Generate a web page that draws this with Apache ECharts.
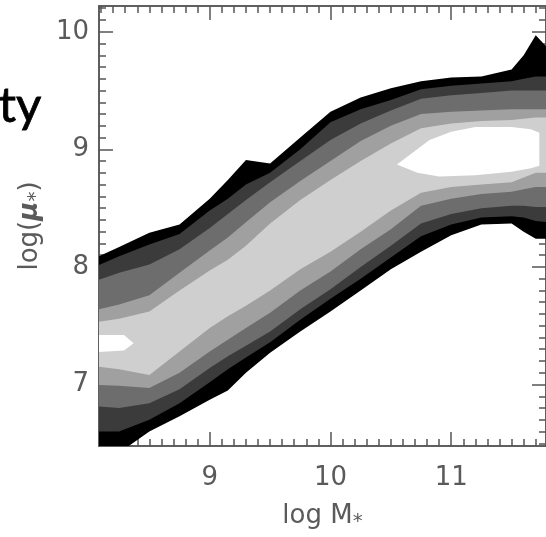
<!DOCTYPE html>
<html><head><meta charset="utf-8">
<script src="https://cdn.jsdelivr.net/npm/echarts@6/dist/echarts.min.js"></script>
<style>html,body{margin:0;padding:0;background:#fff}#c{width:546px;height:537px}</style>
</head><body><div id="c"></div>
<script>
// log M* sample positions of the contour boundaries
const massGrid = [8.0, 8.25, 8.5, 8.75, 9.0, 9.15, 9.3, 9.5, 9.75, 10.0, 10.25, 10.5, 10.75, 11.0, 11.25, 11.5, 11.6, 11.7, 11.8];
// upper boundaries (log mu*) of each filled level
const blackTop   = [8.05, 8.17, 8.29, 8.36, 8.58, 8.74, 8.91, 8.88, 9.10, 9.32, 9.44, 9.52, 9.58, 9.61, 9.62, 9.68, 9.80, 9.97, 9.86];
const darkTop    = [7.98, 8.09, 8.19, 8.28, 8.48, 8.58, 8.70, 8.80, 9.00, 9.23, 9.34, 9.42, 9.51, 9.54, 9.56, 9.58, 9.60, 9.62, 9.62];
const grayTop    = [7.86, 7.95, 8.02, 8.15, 8.33, 8.45, 8.57, 8.72, 8.90, 9.08, 9.22, 9.33, 9.43, 9.46, 9.48, 9.50, 9.50, 9.50, 9.50];
const midTop     = [7.62, 7.68, 7.76, 7.95, 8.14, 8.25, 8.38, 8.55, 8.73, 8.90, 9.07, 9.20, 9.30, 9.32, 9.33, 9.34, 9.34, 9.34, 9.34];
const lightTop   = [7.52, 7.56, 7.62, 7.80, 7.97, 8.06, 8.18, 8.37, 8.57, 8.74, 8.90, 9.05, 9.18, 9.22, 9.24, 9.25, 9.26, 9.27, 9.27];
// lower boundaries
const lightBottom = [7.16, 7.13, 7.08, 7.28, 7.48, 7.58, 7.67, 7.80, 7.98, 8.13, 8.30, 8.48, 8.63, 8.68, 8.70, 8.72, 8.76, 8.80, 8.80];
const midBottom   = [7.00, 6.99, 6.97, 7.10, 7.28, 7.38, 7.48, 7.61, 7.80, 7.96, 8.15, 8.32, 8.52, 8.58, 8.62, 8.64, 8.66, 8.68, 8.68];
const grayBottom  = [6.82, 6.80, 6.84, 6.96, 7.14, 7.24, 7.33, 7.45, 7.64, 7.81, 8.00, 8.18, 8.37, 8.45, 8.50, 8.52, 8.52, 8.51, 8.51];
const darkBottom  = [6.60, 6.60, 6.70, 6.84, 7.02, 7.13, 7.23, 7.36, 7.55, 7.73, 7.90, 8.08, 8.26, 8.36, 8.42, 8.43, 8.42, 8.39, 8.38];
const blackBottom = [6.35, 6.42, 6.60, 6.73, 6.87, 6.95, 7.10, 7.27, 7.45, 7.62, 7.80, 7.98, 8.13, 8.27, 8.36, 8.37, 8.30, 8.24, 8.24];
// innermost (peak) islands, as [log M*, log mu*]
const peakLeft  = [[8.0,7.42],[8.29,7.42],[8.37,7.35],[8.29,7.29],[8.0,7.27]];
const peakRight = [[10.55,8.87],[10.68,8.97],[10.82,9.08],[11.0,9.15],[11.2,9.19],[11.5,9.19],[11.66,9.17],[11.73,9.14],[11.73,8.86],[11.66,8.84],[11.5,8.81],[11.2,8.78],[10.9,8.77],[10.72,8.80]];
// axes
const xRange = [8.083, 11.785];
const yRange = [6.477, 10.219];
const xMajorTicks = [9, 10, 11];
const xMinorTicks = [8.1,8.2,8.3,8.4,8.5,8.6,8.7,8.8,8.9,9.1,9.2,9.3,9.4,9.5,9.6,9.7,9.8,9.9,10.1,10.2,10.3,10.4,10.5,10.6,10.7,10.8,10.9,11.1,11.2,11.3,11.4,11.5,11.6,11.7];
const yMajorTicks = [7, 8, 9, 10];
const yMinorTicks = [6.5,6.6,6.7,6.8,6.9,7.1,7.2,7.3,7.4,7.5,7.6,7.7,7.8,7.9,8.1,8.2,8.3,8.4,8.5,8.6,8.7,8.8,8.9,9.1,9.2,9.3,9.4,9.5,9.6,9.7,9.8,9.9,10.1,10.2];

const levelColors = ['#000000', '#3b3b3b', '#6d6d6d', '#a0a0a0', '#cfcfcf', '#ffffff'];

function bandPolygon(upper, lower) {
  const pts = [];
  massGrid.forEach((x, i) => pts.push([x, upper[i]]));
  for (let i = massGrid.length - 1; i >= 0; i--) pts.push([massGrid[i], lower[i]]);
  return pts;
}
function polySeries(name, pts, color) {
  return {
    type: 'custom', name: name, xAxisIndex: 0, yAxisIndex: 0, clip: true, silent: true,
    animation: false, data: pts, encode: {x: 0, y: 1},
    renderItem: function (params, api) {
      if (params.dataIndex !== 0) return null;
      return {type: 'polygon', shape: {points: pts.map(p => api.coord(p))},
              style: {fill: color, stroke: null}};
    }
  };
}

const axisColor = '#555555';
const textGray = '#5a5a5a';
const labelStyle = {fontFamily: 'DejaVu Sans', fontSize: 26, color: textGray};
function xAx(pos, ticks, len, labels, extra) {
  return Object.assign({
    type: 'value', position: pos, min: xRange[0], max: xRange[1],
    axisLine: {show: true, onZero: false, lineStyle: {color: axisColor, width: 1.5}},
    axisTick: {show: true, inside: true, length: len, customValues: ticks, lineStyle: {color: axisColor, width: 1.5}},
    axisLabel: labels ? Object.assign({customValues: ticks, margin: 19}, labelStyle) : {show: false},
    splitLine: {show: false}
  }, extra || {});
}
function yAx(pos, ticks, len, labels, extra) {
  return Object.assign({
    type: 'value', position: pos, min: yRange[0], max: yRange[1],
    axisLine: {show: true, onZero: false, lineStyle: {color: axisColor, width: 1.5}},
    axisTick: {show: true, inside: true, length: len, customValues: ticks, lineStyle: {color: axisColor, width: 1.5}},
    axisLabel: labels ? Object.assign({customValues: ticks, margin: 10}, labelStyle) : {show: false},
    splitLine: {show: false}
  }, extra || {});
}

const chart = echarts.init(document.getElementById('c'), null, {renderer: 'canvas'});
chart.setOption({
  animation: false,
  backgroundColor: '#ffffff',
  grid: {left: 99, top: 6, width: 448, height: 440, containLabel: false},
  graphic: [{
    type: 'text', left: -2, top: 81,
    style: {text: 'ty', font: '49px Lato', fill: '#000000', stroke: '#000000', lineWidth: 0.8}
  }],
  xAxis: [
    xAx('bottom', xMajorTicks, 14, true, {
      name: '{a|log M}{b|⁎}', nameLocation: 'middle', nameGap: 57,
      nameTextStyle: {rich: {
        a: {fontFamily: 'DejaVu Sans', fontSize: 26, color: textGray},
        b: {fontFamily: 'DejaVu Sans', fontSize: 20, color: textGray}
      }}
    }),
    xAx('bottom', xMinorTicks, 7, false),
    xAx('top', xMajorTicks, 14, false),
    xAx('top', xMinorTicks, 7, false)
  ],
  yAxis: [
    yAx('left', yMajorTicks, 14, true, {
      name: '{a|log(}{b|μ}{c|⁎}{a|)}', nameLocation: 'middle', nameGap: 56,
      nameTextStyle: {rich: {
        a: {fontFamily: 'DejaVu Sans', fontSize: 26, color: textGray},
        b: {fontFamily: 'DejaVu Sans', fontSize: 26, fontWeight: 'bold', fontStyle: 'italic', color: textGray},
        c: {fontFamily: 'DejaVu Sans', fontSize: 20, color: textGray}
      }}
    }),
    yAx('left', yMinorTicks, 7, false),
    yAx('right', yMajorTicks, 14, false),
    yAx('right', yMinorTicks, 7, false)
  ],
  series: [
    polySeries('level1', bandPolygon(blackTop, blackBottom), levelColors[0]),
    polySeries('level2', bandPolygon(darkTop, darkBottom), levelColors[1]),
    polySeries('level3', bandPolygon(grayTop, grayBottom), levelColors[2]),
    polySeries('level4', bandPolygon(midTop, midBottom), levelColors[3]),
    polySeries('level5', bandPolygon(lightTop, lightBottom), levelColors[4]),
    polySeries('level6a', peakLeft, levelColors[5]),
    polySeries('level6b', peakRight, levelColors[5])
  ]
});
</script>
</body></html>
